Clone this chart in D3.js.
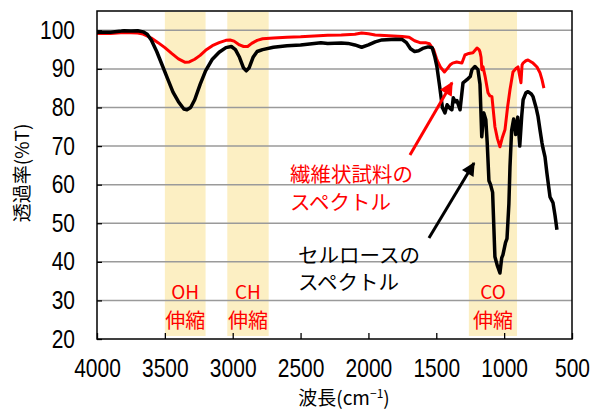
<!DOCTYPE html>
<html>
<head>
<meta charset="utf-8">
<script src="https://cdn.jsdelivr.net/npm/d3@7"></script>
<style>
  body { margin: 0; background: #fff; }
  .tick text { font-family: "Liberation Sans", sans-serif; }
  .jp { font-family: "Noto Sans CJK JP", sans-serif; }
</style>
</head>
<body>
<div id="container"></div>
<script>
// cellulose spectrum (black) [wavenumber, %T]
var celluloseWn = [4000,3900,3820,3800,3750,3700,3660,3630,3600,3560,3520,3480,3440,3400,3360,3337,3310,3280,3240,3200,3150,3100,3050,3010,2980,2950,2920,2900,2880,2850,2820,2780,2700,2600,2500,2400,2350,2300,2200,2150,2100,2050,2000,1950,1900,1800,1750,1720,1690,1660,1630,1600,1560,1530,1510,1495,1475,1455,1436,1420,1400,1385,1375,1360,1348,1325,1303,1274,1250,1237,1215,1193,1178,1165,1150,1135,1125,1112,1100,1085,1068,1050,1031,1018,1009,990,979,965,957,945,930,915,900,885,870,860,840,824,800,787,765,750,735,721,714,699,685,662,650,640,625,611];
var celluloseT  = [99.5,99.5,99.8,99.9,99.8,99.9,99.6,99.0,97.5,94.5,91,87.5,84,81.5,79.6,79.4,80,82,86,89.5,92.5,94.3,95.5,95.8,95,93,90.2,89.5,90.2,93,94.5,95,95.6,96,96.2,96.6,96.8,96.6,96.7,96.6,96.2,95.6,96.2,97,97.5,97.7,97.6,96.8,95.2,94.5,94.7,95.3,95.7,95.5,93,90.5,85.4,80,78.6,80.7,79.8,79.4,82.5,81.5,81.8,79.4,86.4,87.2,88,89.8,90.6,89.8,86,72.4,78.6,76.8,71,61,60,58,41.3,39,37.1,41,41.8,45,46,55,64.6,74,77,73,77.5,70,78,82,83.8,84.1,83.5,82.8,80,77.6,74,70.8,69.5,67.2,63,56.8,56,55.3,52,48.3];

// fibrous sample spectrum (red)
var fiberWn = [4000,3900,3800,3700,3660,3600,3550,3500,3450,3400,3350,3320,3280,3240,3200,3150,3100,3050,3020,2990,2950,2920,2890,2860,2820,2780,2700,2600,2500,2400,2300,2200,2100,2050,2000,1950,1850,1750,1700,1660,1620,1580,1550,1520,1495,1470,1440,1420,1399,1380,1350,1311,1289,1260,1230,1200,1185,1178,1170,1164,1156,1140,1130,1119,1105,1090,1068,1050,1031,1015,994,975,957,935,910,898,885,876,868,861,840,824,800,787,758,736,721,707];
var fiberT  = [99.2,99.2,99.4,99.3,99.0,98,96.8,95.5,94,92.6,91.7,91.8,92.5,93.5,94.8,96,96.8,97.4,97.5,97.2,96.2,95.8,95.8,96.6,97.4,97.8,98,98.2,98.3,98.5,98.7,98.8,99,99.3,99.1,98.8,98.6,98.4,98.2,97.3,96.8,96.8,96.5,95,92.3,90.5,89.2,90,91,91.5,91.8,91.5,93.6,94,94.2,95.4,95,94.4,93,89.8,90.6,88,86,83.8,83,82.8,75,72,69.8,72,74.2,80,84.6,89.2,90.2,90.5,88,86.4,91,91.5,92.1,92.3,91.8,91.5,90.5,89,87.2,85];

// absorption bands [from, to]
var bandNames = ["OH", "CH", "CO"];
var bandRanges = [[3500, 3200], [3040, 2735], [1260, 905]];
var bandSub = "伸縮";

var xTicks = [4000, 3500, 3000, 2500, 2000, 1500, 1000, 500];
var yTicks = [20, 30, 40, 50, 60, 70, 80, 90, 100];

var width = 594, height = 410;
var margin = {top: 11, right: 22, bottom: 71, left: 97};
var w = width - margin.left - margin.right;
var h = height - margin.top - margin.bottom;
var squeeze = 0.84; // narrow digits like the original

var x = d3.scaleLinear().domain([4000, 500]).range([0, w]);
var y = d3.scaleLinear().domain([20, 105]).range([h, 0]);

var svg = d3.select("#container").append("svg")
    .attr("width", width)
    .attr("height", height);

var defs = svg.append("defs");
[["headRed", "#ff0000"], ["headBlack", "#000"]].forEach(function(m) {
    defs.append("marker")
        .attr("id", m[0])
        .attr("viewBox", "0 0 10 10")
        .attr("refX", 9).attr("refY", 5)
        .attr("markerWidth", 5.5).attr("markerHeight", 4.5)
        .attr("markerUnits", "strokeWidth")
        .attr("orient", "auto")
        .append("path")
        .attr("d", "M0,0 L10,5 L0,10 Z")
        .attr("fill", m[1]);
});

var g = svg.append("g")
    .attr("transform", "translate(" + margin.left + "," + margin.top + ")");

// bands
g.selectAll(".band")
    .data(bandRanges)
    .enter().append("rect")
    .attr("class", "band")
    .attr("x", function(d) { return x(d[0]); })
    .attr("width", function(d) { return x(d[1]) - x(d[0]); })
    .attr("y", 1)
    .attr("height", h - 4)
    .attr("fill", "#fcefc3");

// grid
g.selectAll(".grid")
    .data(yTicks.filter(function(d) { return d > 20; }))
    .enter().append("line")
    .attr("class", "grid")
    .attr("x1", 0).attr("x2", w)
    .attr("y1", function(d) { return y(d); })
    .attr("y2", function(d) { return y(d); })
    .attr("stroke", "#9a9a9a")
    .attr("stroke-width", 1.5);

// band labels
bandNames.forEach(function(name, i) {
    var cx = (x(bandRanges[i][0]) + x(bandRanges[i][1])) / 2;
    g.append("text").attr("class", "jp")
        .attr("x", cx).attr("y", 288)
        .attr("text-anchor", "middle")
        .attr("font-size", 19)
        .attr("fill", "#ff0000")
        .text(name);
    g.append("text").attr("class", "jp")
        .attr("x", cx).attr("y", 317)
        .attr("text-anchor", "middle")
        .attr("font-size", 20)
        .attr("fill", "#ff0000")
        .text(bandSub);
});

var line = d3.line()
    .x(function(d) { return x(d[0]); })
    .y(function(d) { return y(d[1]); })
    .curve(d3.curveLinear);

var fiber = fiberWn.map(function(v, i) { return [v, fiberT[i]]; });
var cellulose = celluloseWn.map(function(v, i) { return [v, celluloseT[i]]; });

g.append("path")
    .datum(fiber)
    .attr("fill", "none")
    .attr("stroke", "#ff0000")
    .attr("stroke-width", 3)
    .attr("stroke-linejoin", "round")
    .attr("d", line);

g.append("path")
    .datum(cellulose)
    .attr("fill", "none")
    .attr("stroke", "#000")
    .attr("stroke-width", 3.5)
    .attr("stroke-linejoin", "round")
    .attr("d", line);

// frame
g.append("rect")
    .attr("width", w).attr("height", h)
    .attr("fill", "none")
    .attr("stroke", "#000")
    .attr("stroke-width", 1.5);

// axes
var xAxis = d3.axisBottom(x).tickValues(xTicks).tickFormat(d3.format("d"))
    .tickSizeInner(-6).tickSizeOuter(0).tickPadding(20);
var yAxis = d3.axisLeft(y).tickValues(yTicks).tickFormat(d3.format("d"))
    .tickSizeInner(-5).tickSizeOuter(0).tickPadding(22);

var gx = g.append("g")
    .attr("transform", "translate(0," + h + ")")
    .call(xAxis);
var gy = g.append("g").call(yAxis);

[gx, gy].forEach(function(a) {
    a.select(".domain").remove();
    a.selectAll(".tick line").attr("stroke", "#000").attr("stroke-width", 1.3);
    a.selectAll(".tick text").attr("fill", "#000").attr("font-size", 25)
        .attr("transform", "scale(" + squeeze + ",1)");
});
gx.selectAll(".tick text").attr("dy", "0.72em");
gy.selectAll(".tick text").attr("x", -22 / squeeze);

// axis titles
var xt = svg.append("text").attr("class", "jp")
    .attr("x", 344).attr("y", 405)
    .attr("text-anchor", "middle")
    .attr("font-size", 19)
    .attr("fill", "#000");
xt.append("tspan").text("波長(cm");
xt.append("tspan").attr("font-size", 12).attr("dy", -7).text("−1");
xt.append("tspan").attr("dy", 7).text(")");

svg.append("text").attr("class", "jp")
    .attr("transform", "translate(29,173) rotate(-90)")
    .attr("text-anchor", "middle")
    .attr("font-size", 19)
    .attr("fill", "#000")
    .text("透過率(%T)");

// annotations
var redLabel = ["繊維状試料の", "スペクトル"];
var blackLabel = ["セルロースの", "スペクトル"];

redLabel.forEach(function(t, i) {
    svg.append("text").attr("class", "jp")
        .attr("x", 290).attr("y", 182 + i * 28)
        .attr("font-size", 20.5)
        .attr("fill", "#ff0000")
        .text(t);
});
blackLabel.forEach(function(t, i) {
    svg.append("text").attr("class", "jp")
        .attr("x", 298).attr("y", 263 + i * 27)
        .attr("font-size", 20.5)
        .attr("fill", "#000")
        .text(t);
});

// arrows (data coords: wavenumber, %T)
var redArrow = [[1694, 67.7], [1384, 86.4]];
var blackArrow = [[1554, 46.2], [1222, 65.6]];

g.append("line")
    .attr("x1", x(redArrow[0][0])).attr("y1", y(redArrow[0][1]))
    .attr("x2", x(redArrow[1][0])).attr("y2", y(redArrow[1][1]))
    .attr("stroke", "#ff0000").attr("stroke-width", 3)
    .attr("marker-end", "url(#headRed)");

g.append("line")
    .attr("x1", x(blackArrow[0][0])).attr("y1", y(blackArrow[0][1]))
    .attr("x2", x(blackArrow[1][0])).attr("y2", y(blackArrow[1][1]))
    .attr("stroke", "#000").attr("stroke-width", 3)
    .attr("marker-end", "url(#headBlack)");
</script>
</body>
</html>
